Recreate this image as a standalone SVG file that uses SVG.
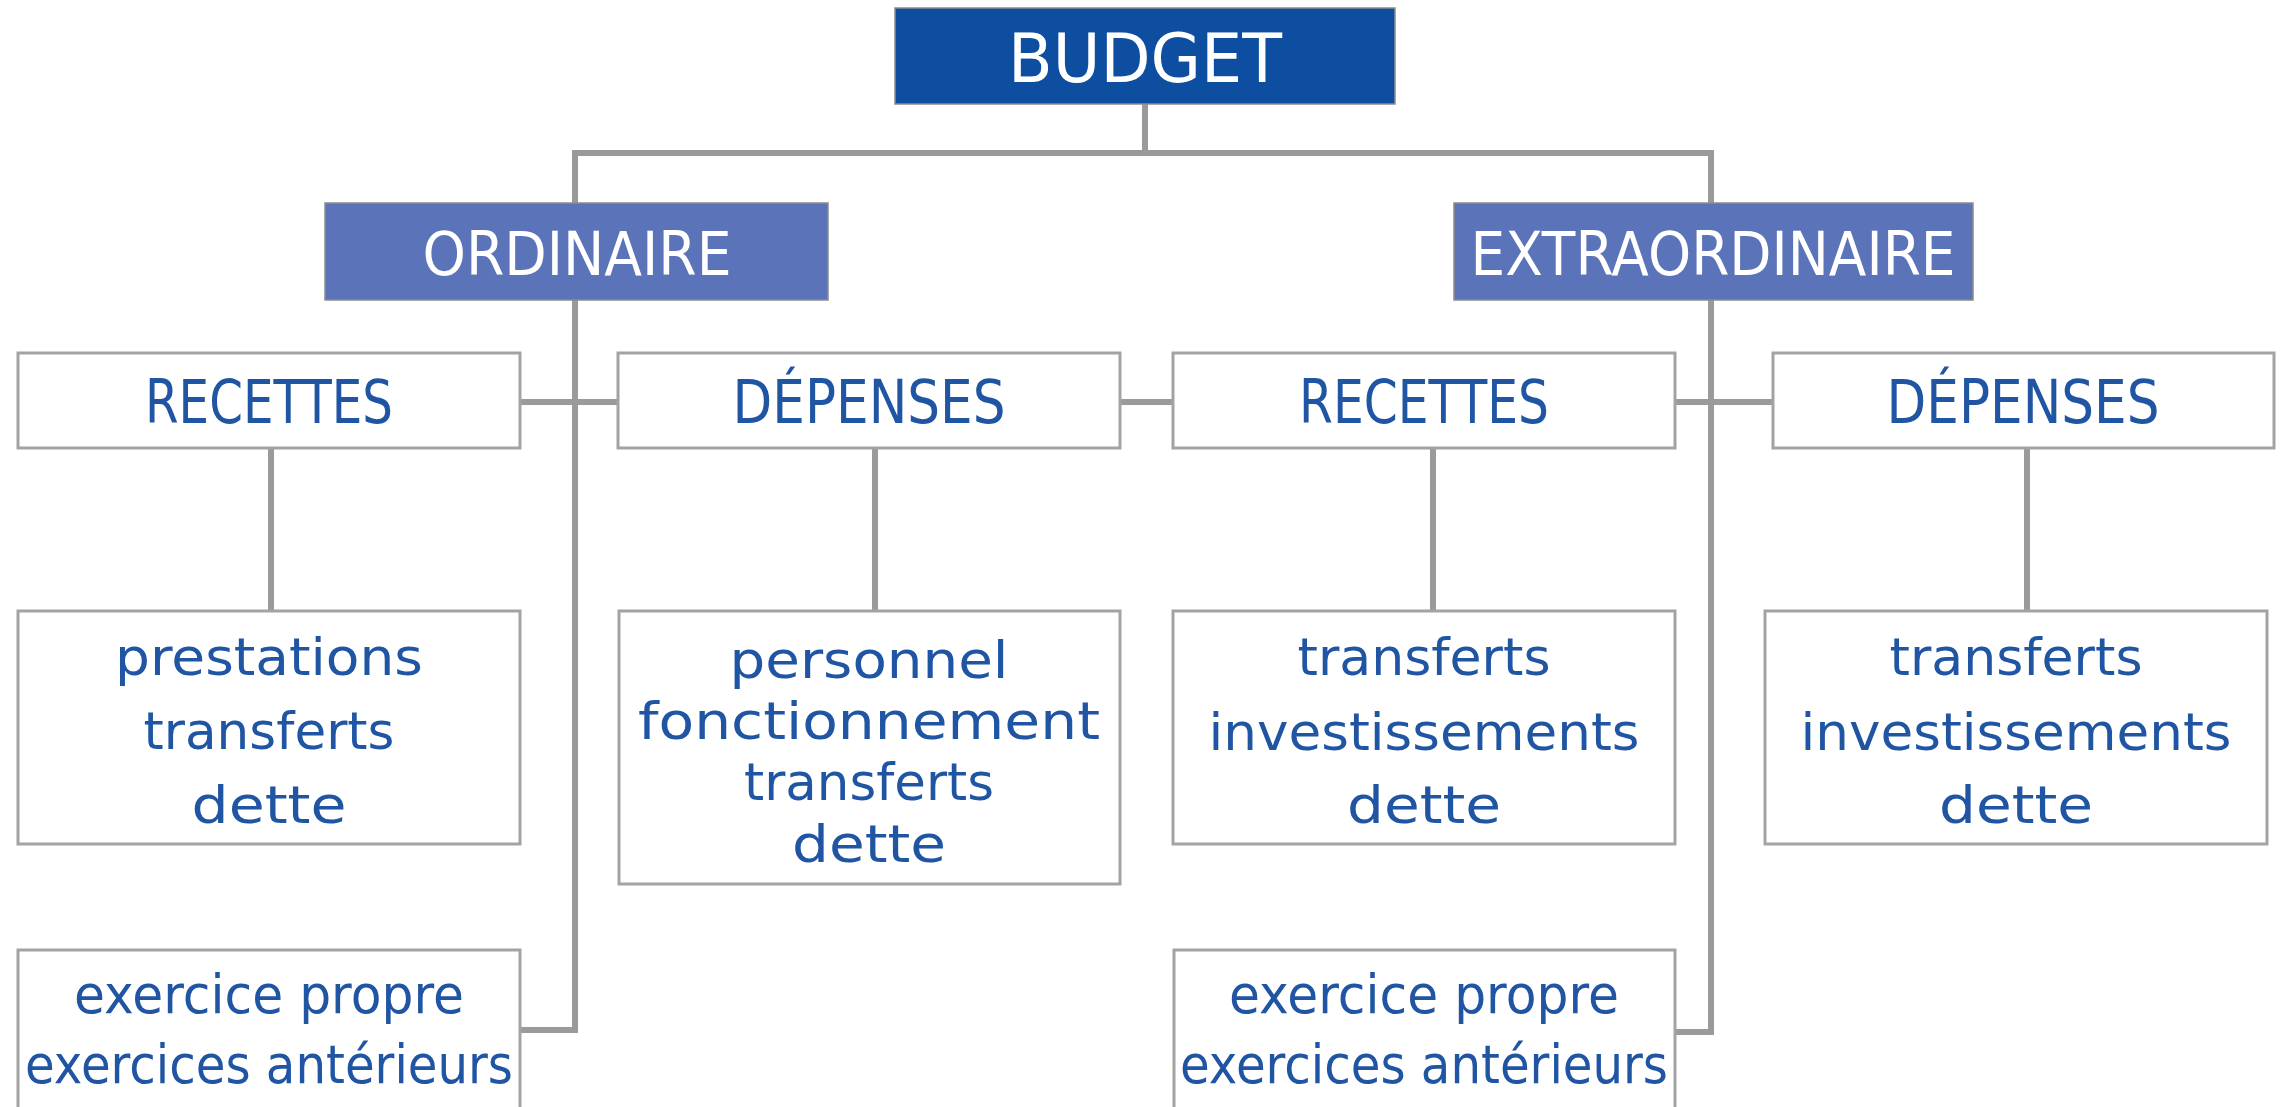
<svg xmlns="http://www.w3.org/2000/svg" width="2281" height="1107" viewBox="0 0 2281 1107">
<style>
.bg{fill:#ffffff}
.conn{fill:none;stroke:#9a9a9a;stroke-width:6;stroke-linecap:butt;stroke-linejoin:miter}
.box{fill:#ffffff;stroke:#a3a3a3;stroke-width:3}
.top{fill:#0e4ea1;stroke:#8c8c8c;stroke-width:1.5}
.mid{fill:#5b73b8;stroke:#8c8c8c;stroke-width:1.5}
text{font-family:"DejaVu Sans","Liberation Sans",sans-serif;text-anchor:middle}
.wt{fill:#ffffff}
.bt{fill:#1f55a3}
.cap{font-size:60px}
.body{font-size:51px}
.ex{font-size:54px}
</style>
<rect class="bg" x="0" y="0" width="2281" height="1107"/>
<g id="connectors">
<polyline class="conn" points="1145,104 1145,153"/>
<polyline class="conn" points="575,203 575,153 1711,153 1711,203"/>
<polyline class="conn" points="575,300 575,1030 520,1030"/>
<polyline class="conn" points="1711,300 1711,1032 1675,1032"/>
<line class="conn" x1="520" y1="402" x2="618" y2="402"/>
<line class="conn" x1="1120" y1="402" x2="1173" y2="402"/>
<line class="conn" x1="1675" y1="402" x2="1773" y2="402"/>
<line class="conn" x1="271" y1="448" x2="271" y2="611"/>
<line class="conn" x1="875" y1="448" x2="875" y2="611"/>
<line class="conn" x1="1433" y1="448" x2="1433" y2="611"/>
<line class="conn" x1="2027" y1="448" x2="2027" y2="611"/>
</g>
<g id="budget">
<rect class="top" x="895" y="8" width="500" height="96"/>
<text class="wt" x="1145" y="82" font-size="68" textLength="274" lengthAdjust="spacingAndGlyphs">BUDGET</text>
</g>
<g id="ordinaire">
<rect class="mid" x="325" y="203" width="503" height="97"/>
<text class="wt cap" x="577" y="275" textLength="309" lengthAdjust="spacingAndGlyphs">ORDINAIRE</text>
</g>
<g id="extraordinaire">
<rect class="mid" x="1454" y="203" width="519" height="97"/>
<text class="wt cap" x="1713" y="275" textLength="485" lengthAdjust="spacingAndGlyphs">EXTRAORDINAIRE</text>
</g>
<g id="ord-recettes">
<rect class="box" x="18" y="353" width="502" height="95"/>
<text class="bt cap" x="269" y="423" textLength="248" lengthAdjust="spacingAndGlyphs">RECETTES</text>
</g>
<g id="ord-depenses">
<rect class="box" x="618" y="353" width="502" height="95"/>
<text class="bt cap" x="869" y="423" textLength="273" lengthAdjust="spacingAndGlyphs">DÉPENSES</text>
</g>
<g id="extra-recettes">
<rect class="box" x="1173" y="353" width="502" height="95"/>
<text class="bt cap" x="1424" y="423" textLength="250" lengthAdjust="spacingAndGlyphs">RECETTES</text>
</g>
<g id="extra-depenses">
<rect class="box" x="1773" y="353" width="501" height="95"/>
<text class="bt cap" x="2023" y="423" textLength="273" lengthAdjust="spacingAndGlyphs">DÉPENSES</text>
</g>
<g id="ord-recettes-detail">
<rect class="box" x="18" y="611" width="502" height="233"/>
<text class="bt body" x="269" y="675" textLength="308" lengthAdjust="spacingAndGlyphs">prestations</text>
<text class="bt body" x="269" y="749" textLength="251" lengthAdjust="spacingAndGlyphs">transferts</text>
<text class="bt body" x="269" y="823" textLength="155" lengthAdjust="spacingAndGlyphs">dette</text>
</g>
<g id="ord-depenses-detail">
<rect class="box" x="619" y="611" width="501" height="273"/>
<text class="bt body" x="869" y="678" textLength="279" lengthAdjust="spacingAndGlyphs">personnel</text>
<text class="bt body" x="869" y="739" textLength="462" lengthAdjust="spacingAndGlyphs">fonctionnement</text>
<text class="bt body" x="869" y="800" textLength="250" lengthAdjust="spacingAndGlyphs">transferts</text>
<text class="bt body" x="869" y="862" textLength="154" lengthAdjust="spacingAndGlyphs">dette</text>
</g>
<g id="extra-recettes-detail">
<rect class="box" x="1173" y="611" width="502" height="233"/>
<text class="bt body" x="1424" y="675" textLength="253" lengthAdjust="spacingAndGlyphs">transferts</text>
<text class="bt body" x="1424" y="750" textLength="431" lengthAdjust="spacingAndGlyphs">investissements</text>
<text class="bt body" x="1424" y="823" textLength="154" lengthAdjust="spacingAndGlyphs">dette</text>
</g>
<g id="extra-depenses-detail">
<rect class="box" x="1765" y="611" width="502" height="233"/>
<text class="bt body" x="2016" y="675" textLength="253" lengthAdjust="spacingAndGlyphs">transferts</text>
<text class="bt body" x="2016" y="750" textLength="431" lengthAdjust="spacingAndGlyphs">investissements</text>
<text class="bt body" x="2016" y="823" textLength="154" lengthAdjust="spacingAndGlyphs">dette</text>
</g>
<g id="ord-exercices">
<rect class="box" x="18" y="950" width="502" height="180"/>
<text class="bt ex" x="269" y="1013" textLength="390" lengthAdjust="spacingAndGlyphs">exercice propre</text>
<text class="bt ex" x="269" y="1083" textLength="488" lengthAdjust="spacingAndGlyphs">exercices antérieurs</text>
</g>
<g id="extra-exercices">
<rect class="box" x="1174" y="950" width="501" height="180"/>
<text class="bt ex" x="1424" y="1013" textLength="390" lengthAdjust="spacingAndGlyphs">exercice propre</text>
<text class="bt ex" x="1424" y="1083" textLength="488" lengthAdjust="spacingAndGlyphs">exercices antérieurs</text>
</g>
</svg>
